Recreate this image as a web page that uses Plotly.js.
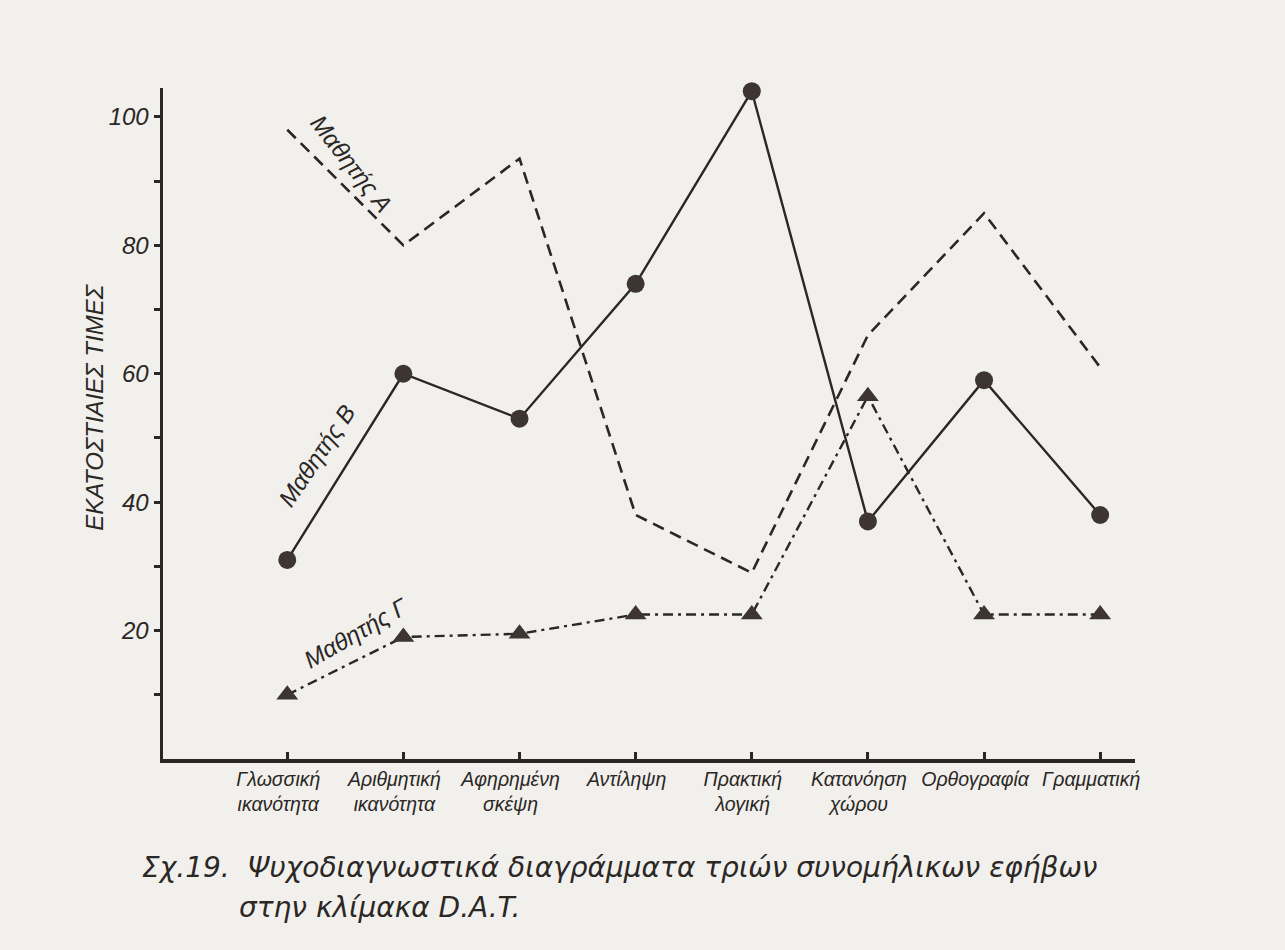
<!DOCTYPE html>
<html>
<head>
<meta charset="utf-8">
<script src="https://cdn.plot.ly/plotly-3.0.1.min.js"></script>
<style>
html,body{margin:0;padding:0;background:#f1f0ec;}
</style>
</head>
<body>
<div id="chart" style="width:1285px;height:950px;"></div>
<script>
const categories = ["Γλωσσική<br>ικανότητα","Αριθμητική<br>ικανότητα","Αφηρημένη<br>σκέψη","Αντίληψη","Πρακτική<br>λογική","Κατανόηση<br>χώρου","Ορθογραφία","Γραμματική"];
const studentA = [98, 80, 93.5, 38, 29, 66, 85, 61];
const studentB = [31, 60, 53, 74, 104, 37, 59, 38];
const studentC = [10, 19, 19.5, 22.5, 22.5, 56.5, 22.5, 22.5];
const seriesNames = ["Μαθητής Α","Μαθητής Β","Μαθητής Γ"];
const yTitle = "ΕΚΑΤΟΣΤΙΑΙΕΣ ΤΙΜΕΣ";
const captionLine1 = "Σχ.19.  Ψυχοδιαγνωστικά διαγράμματα τριών συνομήλικων εφήβων";
const captionLine2 = "στην κλίμακα D.A.T.";

const ink = "#2b2725";
const fontFam = "Liberation Sans, Arial, sans-serif";
const captionFam = "DejaVu Sans, Liberation Sans, sans-serif";

const traces = [
  {x: categories, y: studentA, name: seriesNames[0], mode: "lines",
   line: {color: ink, width: 2.6, dash: "12px,7px"}, cliponaxis: false},
  {x: categories, y: studentB, name: seriesNames[1], mode: "lines+markers",
   line: {color: ink, width: 2.4}, marker: {symbol: "circle", size: 18, color: "#3d3532"}, cliponaxis: false},
  {x: categories, y: studentC, name: seriesNames[2], mode: "lines+markers",
   line: {color: ink, width: 2.4, dash: "10px,5px,3px,5px"}, marker: {symbol: "triangle-up", size: 19, color: "#3d3532"}, cliponaxis: false}
];

const layout = {
  width: 1285, height: 950,
  paper_bgcolor: "#f1f0ec", plot_bgcolor: "#f1f0ec",
  margin: {l: 163, r: 150, t: 88, b: 191},
  showlegend: false,
  font: {family: fontFam, color: ink},
  xaxis: {
    type: "category", range: [-1.07, 7.3],
    showgrid: false, zeroline: false,
    showline: true, linecolor: ink, linewidth: 3.5,
    ticks: "inside", ticklen: 7, tickwidth: 3, tickcolor: ink,
    tickfont: {size: 19.5, style: "italic", color: ink},
    ticklabelshift: -9,
    tickangle: 0
  },
  yaxis: {
    range: [0, 104.5],
    showgrid: false, zeroline: false,
    showline: true, linecolor: ink, linewidth: 3.5,
    ticks: "outside", ticklen: 6, tickwidth: 3, tickcolor: ink,
    tickfont: {size: 24, style: "italic", color: ink},
    tickvals: [20, 40, 60, 80, 100],
    minor: {tickvals: [10, 30, 50, 70, 90], ticks: "outside", ticklen: 6, tickwidth: 3, tickcolor: ink, showgrid: false}
  },
  annotations: [
    {xref: "paper", yref: "paper", x: -0.07, y: 0.525, xanchor: "center", yanchor: "middle", text: yTitle, showarrow: false,
     textangle: -90, font: {size: 24, style: "italic", color: ink}},
    {xref: "paper", yref: "paper", x: 0.194, y: 0.888, xanchor: "center", yanchor: "middle", text: seriesNames[0], showarrow: false,
     textangle: 52, font: {size: 24, style: "italic", color: ink}},
    {xref: "paper", yref: "paper", x: 0.158, y: 0.453, xanchor: "center", yanchor: "middle", text: seriesNames[1], showarrow: false,
     textangle: -56, font: {size: 24, style: "italic", color: ink}},
    {xref: "paper", yref: "paper", x: 0.199, y: 0.189, xanchor: "center", yanchor: "middle", text: seriesNames[2], showarrow: false,
     textangle: -30, font: {size: 24, style: "italic", color: ink}},
    {xref: "paper", yref: "paper", x: -0.0237, y: -0.161, xanchor: "left", yanchor: "middle",
     text: captionLine1, showarrow: false, font: {size: 28, style: "italic", family: captionFam, color: ink}},
    {xref: "paper", yref: "paper", x: 0.0761, y: -0.2206, xanchor: "left", yanchor: "middle",
     text: captionLine2, showarrow: false, font: {size: 28, style: "italic", family: captionFam, color: ink}}
  ]
};

Plotly.newPlot("chart", traces, layout, {displayModeBar: false, staticPlot: true});
</script>
</body>
</html>
